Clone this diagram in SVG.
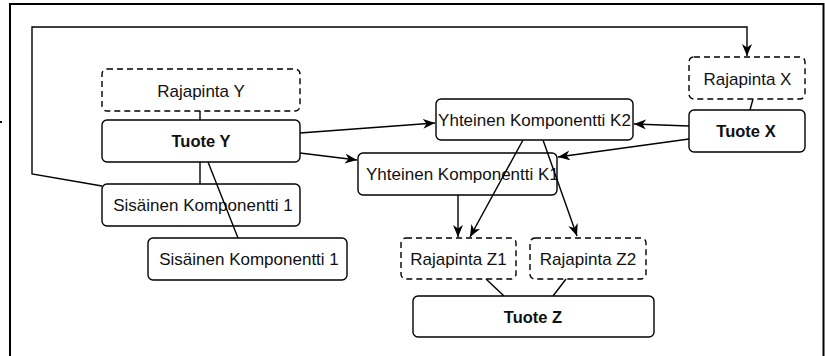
<svg xmlns="http://www.w3.org/2000/svg" width="825" height="356" viewBox="0 0 825 356">
<style>
.box{fill:#fff;stroke:#000;stroke-width:1.4}
.dash{stroke-dasharray:6 4}
.t{font-family:"Liberation Sans",Arial,sans-serif;font-size:17px;fill:#111;text-anchor:middle}
.b{font-weight:bold;font-size:16.5px}
.c{fill:none;stroke:#000;stroke-width:1.4}
</style>
<defs>
<marker id="arr" markerUnits="userSpaceOnUse" markerWidth="13" markerHeight="11" refX="12" refY="5" orient="auto">
<path d="M0,0 L12,5 L0,10 L3.5,5 z" fill="#000"/>
</marker>
</defs>
<rect width="825" height="356" fill="#fff"/>
<path d="M10,356 V4 H823.5 V356" fill="none" stroke="#000" stroke-width="2"/>
<rect x="0" y="121" width="2" height="2" fill="#000"/>
<g id="rajapintaY"><rect class="box dash" x="102" y="69" width="198" height="42" rx="5"/><text class="t" x="201" y="96.5">Rajapinta Y</text></g>
<g id="tuoteY"><rect class="box" x="102" y="120" width="198" height="42" rx="5"/><text class="t b" x="201" y="147">Tuote Y</text></g>
<g id="sisainen1a"><rect class="box" x="102" y="184" width="198" height="42" rx="5"/><text class="t" x="203" y="211">Sisäinen Komponentti 1</text></g>
<g id="sisainen1b"><rect class="box" x="148" y="238" width="199" height="42" rx="5"/><text class="t" x="249" y="265">Sisäinen Komponentti 1</text></g>
<g id="rajapintaX"><rect class="box dash" x="689" y="57" width="116" height="42" rx="5"/><text class="t" x="747.5" y="84.5">Rajapinta X</text></g>
<g id="tuoteX"><rect class="box" x="689" y="110" width="116" height="42" rx="5"/><text class="t b" x="746" y="137">Tuote X</text></g>
<g id="k2"><rect class="box" x="436" y="99" width="197" height="41" rx="5"/><text class="t" x="534.5" y="126">Yhteinen Komponentti K2</text></g>
<g id="k1"><rect class="box" x="358" y="153" width="199" height="42" rx="5"/><text class="t" x="366" y="180" style="text-anchor:start">Yhteinen Komponentti K1</text></g>
<g id="rajapintaZ1"><rect class="box dash" x="401" y="238" width="115" height="41" rx="5"/><text class="t" x="458.5" y="265">Rajapinta Z1</text></g>
<g id="rajapintaZ2"><rect class="box dash" x="530" y="238" width="116" height="41" rx="5"/><text class="t" x="588" y="265">Rajapinta Z2</text></g>
<g id="tuoteZ"><rect class="box" x="413" y="296" width="241" height="41" rx="5"/><text class="t b" x="533" y="323">Tuote Z</text></g>
<g id="connectors">
<path class="c" d="M102,186 L32,174 L32,27 L747,27 L747,56" marker-end="url(#arr)"/>
<path class="c" d="M200,111 V120"/>
<path class="c" d="M200,162 V184"/>
<path class="c" d="M208,162 L238,238"/>
<path class="c" d="M753,99 L750,110"/>
<path class="c" d="M300,133 L435,123" marker-end="url(#arr)"/>
<path class="c" d="M300,153 L357,160" marker-end="url(#arr)"/>
<path class="c" d="M689,126 L634,124" marker-end="url(#arr)"/>
<path class="c" d="M689,139 L558,157" marker-end="url(#arr)"/>
<path class="c" d="M458,195 V237" marker-end="url(#arr)"/>
<path class="c" d="M523,140 L470,237" marker-end="url(#arr)"/>
<path class="c" d="M543,140 L577,236" marker-end="url(#arr)"/>
<path class="c" d="M486,279 L504,296"/>
<path class="c" d="M566,279 L553,296"/>
</g>
</svg>
